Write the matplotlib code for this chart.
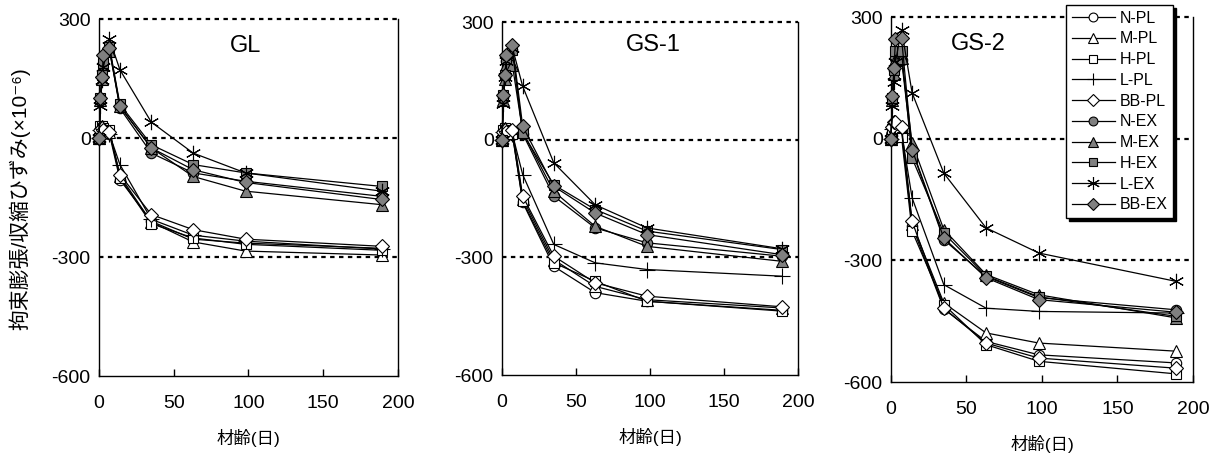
import matplotlib
matplotlib.use("Agg")
import matplotlib.pyplot as plt
from matplotlib.lines import Line2D

plt.rcParams["font.family"] = ["Liberation Sans", "Noto Sans CJK JP", "DejaVu Sans"]
plt.rcParams["axes.unicode_minus"] = False

# ── データ ───────────────────────────────────────────────────────────────────
DAYS = [0, 1, 2, 3, 7, 14, 35, 63, 98, 189]
SERIES = ["N-PL", "M-PL", "H-PL", "L-PL", "BB-PL", "N-EX", "M-EX", "H-EX", "L-EX", "BB-EX"]

GL_N_PL   = [0, 20, 25, 20, 10, -105, -210, -255, -265, -278]
GL_M_PL   = [0, 25, 30, 25, 15, -95, -212, -262, -285, -295]
GL_H_PL   = [0, 30, 30, 25, 20, -100, -216, -252, -268, -283]
GL_L_PL   = [0, 20, 25, 20, 10, -67, -205, -245, -260, -280]
GL_BB_PL  = [0, 20, 25, 20, 15, -92, -193, -231, -255, -273]
GL_N_EX   = [0, 100, 155, 190, 225, 75, -38, -88, -109, -147]
GL_M_EX   = [0, 95, 150, 185, 220, 80, -25, -97, -134, -168]
GL_H_EX   = [0, 100, 160, 190, 230, 85, -17, -67, -88, -122]
GL_L_EX   = [0, 80, 145, 180, 250, 172, 40, -38, -88, -134]
GL_BB_EX  = [0, 100, 155, 210, 228, 80, -25, -80, -112, -155]

GS1_N_PL  = [0, 20, 25, 20, 15, -160, -323, -390, -412, -435]
GS1_M_PL  = [0, 25, 30, 25, 20, -150, -306, -374, -408, -429]
GS1_H_PL  = [0, 25, 30, 25, 15, -157, -314, -361, -412, -437]
GS1_L_PL  = [0, 20, 25, 20, 15, -89, -267, -314, -331, -348]
GS1_BB_PL = [0, 20, 25, 20, 25, -144, -297, -365, -399, -426]
GS1_N_EX  = [0, 110, 160, 200, 229, 15, -144, -225, -263, -297]
GS1_M_EX  = [0, 100, 155, 190, 191, 20, -132, -221, -272, -310]
GS1_H_EX  = [0, 115, 165, 205, 229, 17, -115, -178, -233, -280]
GS1_L_EX  = [0, 90, 160, 200, 235, 136, -59, -166, -225, -278]
GS1_BB_EX = [0, 115, 165, 215, 242, 34, -119, -187, -242, -293]

GS2_N_PL  = [0, 30, 35, 30, 20, -215, -420, -500, -533, -553]
GS2_M_PL  = [0, 30, 40, 35, 25, -210, -405, -479, -504, -524]
GS2_H_PL  = [0, 25, 30, 25, 5, -228, -409, -508, -549, -580]
GS2_L_PL  = [0, 25, 30, 25, 15, -146, -360, -418, -426, -430]
GS2_BB_PL = [0, 30, 40, 40, 30, -204, -418, -504, -541, -566]
GS2_N_EX  = [0, 100, 170, 200, 195, -30, -249, -340, -392, -422]
GS2_M_EX  = [0, 95, 160, 195, 200, -11, -224, -335, -385, -442]
GS2_H_EX  = [0, 100, 170, 215, 215, -48, -233, -338, -390, -438]
GS2_L_EX  = [0, 80, 140, 190, 269, 113, -85, -220, -282, -352]
GS2_BB_EX = [0, 105, 175, 245, 248, -27, -245, -343, -397, -428]

PANELS = [
    ("GL",   [GL_N_PL, GL_M_PL, GL_H_PL, GL_L_PL, GL_BB_PL,
              GL_N_EX, GL_M_EX, GL_H_EX, GL_L_EX, GL_BB_EX]),
    ("GS-1", [GS1_N_PL, GS1_M_PL, GS1_H_PL, GS1_L_PL, GS1_BB_PL,
              GS1_N_EX, GS1_M_EX, GS1_H_EX, GS1_L_EX, GS1_BB_EX]),
    ("GS-2", [GS2_N_PL, GS2_M_PL, GS2_H_PL, GS2_L_PL, GS2_BB_PL,
              GS2_N_EX, GS2_M_EX, GS2_H_EX, GS2_L_EX, GS2_BB_EX]),
]

# ── スタイル ─────────────────────────────────────────────────────────────────
GRAY = "#808080"
STYLE = {
    "N-PL":  dict(marker="o", mfc="white", ms=7.5),
    "M-PL":  dict(marker="^", mfc="white", ms=8.5),
    "H-PL":  dict(marker="s", mfc="white", ms=7.5),
    "L-PL":  dict(marker="+", mfc="white", ms=11),
    "BB-PL": dict(marker="D", mfc="white", ms=7),
    "N-EX":  dict(marker="o", mfc=GRAY, ms=7.5),
    "M-EX":  dict(marker="^", mfc=GRAY, ms=8.5),
    "H-EX":  dict(marker="s", mfc=GRAY, ms=7.5),
    "L-EX":  dict(marker=(6, 2, 0), mfc=GRAY, ms=11),
    "BB-EX": dict(marker="D", mfc=GRAY, ms=7),
}

AX_POS = [
    [0.0812, 0.1772, 0.2453, 0.7812],
    [0.4118, 0.1794, 0.2428, 0.7724],
    [0.7309, 0.1641, 0.2477, 0.7987],
]
TITLE_POS = [(0.49, 0.925), (0.51, 0.935), (0.29, 0.925)]

fig = plt.figure(figsize=(12.19, 4.57), dpi=100)

for (name, data), pos, tpos in zip(PANELS, AX_POS, TITLE_POS):
    ax = fig.add_axes(pos)
    for lvl in (300, 0, -300):
        ax.axhline(lvl, color="black", lw=1.6, ls=(0, (2, 2)), zorder=1, clip_on=False)
    for s, vals in zip(SERIES, data):
        st = STYLE[s]
        ax.plot(DAYS, vals, color="black", lw=0.9, marker=st["marker"],
                mfc=st["mfc"], mec="black", mew=0.8, ms=st["ms"],
                clip_on=False, zorder=3)
    ax.set_xlim(0, 200)
    ax.set_ylim(-600, 300)
    ax.set_xticks([0, 50, 100, 150, 200])
    ax.set_yticks([300, 0, -300, -600])
    ax.tick_params(direction="in", length=5, width=1, labelsize=14, pad=14)
    ax.tick_params(axis="y", length=0, pad=6)
    ax.spines["top"].set_visible(False)
    for sp in ("left", "right", "bottom"):
        ax.spines[sp].set_linewidth(1.0)
    ax.set_xlabel("材齢(日)", fontsize=12.5, labelpad=12)
    ax.text(tpos[0], tpos[1], name, transform=ax.transAxes, fontsize=17,
            ha="center", va="center")

fig.text(0.016, 0.565, "拘束膨張/収縮ひずみ(×10⁻⁶)", rotation=90,
         fontsize=15, ha="center", va="center")

handles = [Line2D([], [], color="black", lw=0.9, marker=STYLE[s]["marker"],
                  mfc=STYLE[s]["mfc"], mec="black", mew=0.8, ms=STYLE[s]["ms"])
           for s in SERIES]
leg = fig.legend(handles, SERIES, loc="upper left",
                 bbox_to_anchor=(0.8745, 0.989), borderaxespad=0,
                 fontsize=11.5, frameon=True, fancybox=False,
                 shadow={"color": "black", "alpha": 1},
                 handlelength=2.7, handletextpad=0.3, labelspacing=0.36,
                 borderpad=0.35, markerscale=0.85)
leg.get_frame().set_edgecolor("black")
leg.get_frame().set_linewidth(1.0)

fig.savefig("out.png", dpi=100)
